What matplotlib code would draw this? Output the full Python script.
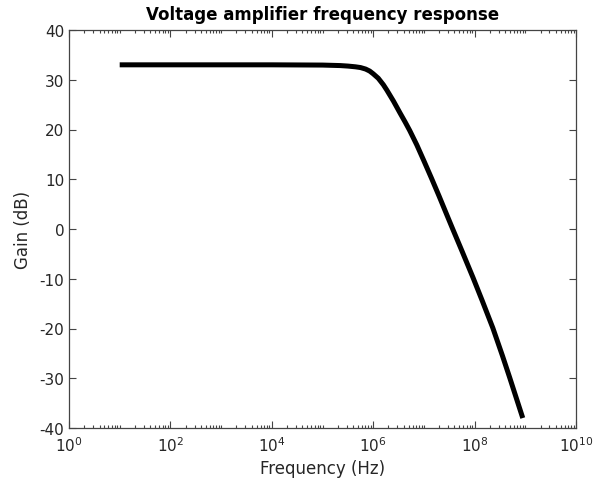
import numpy as np
import matplotlib
matplotlib.use("Agg")
import matplotlib.pyplot as plt
from matplotlib.ticker import FixedLocator, FixedFormatter, LogLocator, NullFormatter

plt.rcParams['font.family'] = ['DejaVu Sans']
plt.rcParams['axes.unicode_minus'] = False
plt.rcParams['mathtext.default'] = 'regular'

# Data
log10_freq = [1, 2, 3, 4, 5, 5.35, 5.5, 5.65, 5.75, 5.85, 5.93, 6.0, 6.1, 6.2,
              6.27, 6.4, 6.53, 6.63, 6.72, 6.86, 7.0, 7.15, 7.3, 7.45, 7.56,
              7.75, 7.97, 8.15, 8.36, 8.55, 8.69, 8.82, 8.95]
gain_db = [33.0, 33.0, 33.0, 33.0, 32.95, 32.85, 32.75, 32.6, 32.45, 32.15,
           31.75, 31.2, 30.3, 29.0, 27.9, 25.7, 23.3, 21.5, 19.8, 16.9, 13.7,
           10.2, 6.6, 2.9, 0.2, -4.4, -9.8, -14.4, -19.9, -25.5, -29.8, -33.9,
           -38.0]

x_ticks = [1e0, 1e2, 1e4, 1e6, 1e8, 1e10]
x_tick_labels = [r'$10^{0}$', r'$10^{2}$', r'$10^{4}$', r'$10^{6}$', r'$10^{8}$', r'$10^{10}$']
y_ticks = [-40, -30, -20, -10, 0, 10, 20, 30, 40]

freq = np.power(10.0, log10_freq)

fig = plt.figure(figsize=(6.05, 4.81), dpi=100)
ax = fig.add_axes([69/605, 1 - 429/481, (576-69)/605, (429-31)/481])

ax.plot(freq, gain_db, color='black', lw=3.6, solid_capstyle='butt',
        solid_joinstyle='round')

ax.set_xscale('log')
ax.set_xlim(1e0, 1e10)
ax.set_ylim(-40, 40)

ax.xaxis.set_major_locator(FixedLocator(x_ticks))
ax.xaxis.set_major_formatter(FixedFormatter(x_tick_labels))
ax.xaxis.set_minor_locator(LogLocator(base=10, subs=np.arange(1, 10), numticks=100))
ax.xaxis.set_minor_formatter(NullFormatter())
ax.set_yticks(y_ticks)
ax.set_yticklabels([str(v) for v in y_ticks])

tc = '#262626'
for s in ax.spines.values():
    s.set_color('#444444')
    s.set_linewidth(0.9)
ax.tick_params(which='both', direction='in', top=True, right=True, colors='#444444',
               labelcolor=tc, labelsize=11, width=0.8)
ax.tick_params(which='major', length=5)
ax.tick_params(which='minor', length=2.5)
ax.tick_params(axis='x', which='major', pad=5)

ax.set_xlabel('Frequency (Hz)', fontsize=12, color=tc, labelpad=4)
ax.set_ylabel('Gain (dB)', fontsize=12, color=tc, labelpad=5)
ax.set_title('Voltage amplifier frequency response', fontsize=12, fontweight='bold',
             color='black', pad=8)

fig.savefig('out.png', dpi=100)
